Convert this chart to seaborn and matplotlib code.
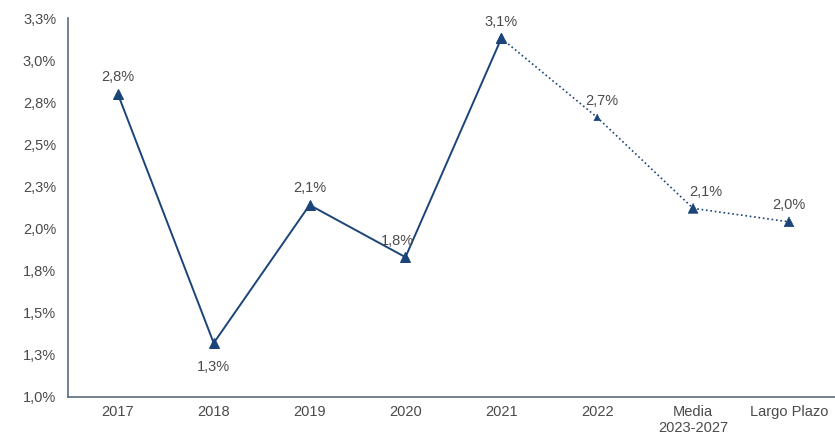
import pandas as pd
import seaborn as sns
import matplotlib.pyplot as plt

# datos (%)
categorias = ['2017', '2018', '2019', '2020', '2021', '2022', 'Media\n2023-2027', 'Largo Plazo']
valores = [2.80, 1.32, 2.14, 1.83, 3.13, 2.66, 2.12, 2.04]
etiquetas = ['2,8%', '1,3%', '2,1%', '1,8%', '3,1%', '2,7%', '2,1%', '2,0%']
yticks = [1.0, 1.25, 1.5, 1.75, 2.0, 2.25, 2.5, 2.75, 3.0, 3.25]
ytick_labels = ['1,0%', '1,3%', '1,5%', '1,8%', '2,0%', '2,3%', '2,5%', '2,8%', '3,0%', '3,3%']
# desplazamiento de las etiquetas en puntos (x, y)
offsets = [(0, 12), (0, -17), (0, 12), (-6, 12), (0, 12), (3, 12), (9, 12), (0, 12)]

sns.set_style('white')
plt.rcParams['font.family'] = ['Liberation Sans', 'DejaVu Sans']

color = '#1b4479'
gris = '#4a4a4a'

df = pd.DataFrame({'pos': range(len(categorias)), 'valor': valores})
real = df.iloc[:5]
prevision = df.iloc[4:]

fig = plt.figure(figsize=(8.35, 4.42), dpi=100)
ax = fig.add_axes([0.0814, 0.102, 0.9186, 0.857])

sns.lineplot(data=real, x='pos', y='valor', color=color, linewidth=1.4,
             marker='^', markersize=7.5, markeredgecolor=color, ax=ax)
sns.lineplot(data=prevision, x='pos', y='valor', color=color, linewidth=1.2,
             linestyle=':', ax=ax)
sns.scatterplot(x=prevision['pos'], y=prevision['valor'], marker='^',
                s=[50, 22, 50, 50], color=color, edgecolor=color, ax=ax, legend=False)

for i, v in enumerate(valores):
    ax.annotate(etiquetas[i], (i, v), xytext=offsets[i],
                textcoords='offset points', ha='center', va='center',
                fontsize=10.5, color=gris)

ax.set_ylim(1.0, 3.25)
ax.set_xlim(-0.52, len(categorias) - 0.52)
ax.set_yticks(yticks)
ax.set_yticklabels(ytick_labels)
ax.set_xticks(range(len(categorias)))
ax.set_xticklabels(categorias)
ax.set_xticks([k + 0.5 for k in range(len(categorias) - 1)], minor=True)
ax.tick_params(axis='x', which='major', length=0, labelsize=10.5, labelcolor=gris, pad=6)
ax.tick_params(axis='x', which='minor', length=5, color='#5b6b7c', direction='out')
ax.tick_params(axis='y', length=5, color='#5b6b7c', labelsize=10.5, labelcolor=gris, direction='out')
ax.set_xlabel('')
ax.set_ylabel('')

for s in ['top', 'right']:
    ax.spines[s].set_visible(False)
for s in ['left', 'bottom']:
    ax.spines[s].set_color('#5b6b7c')
    ax.spines[s].set_linewidth(1.2)

fig.savefig('out.png', dpi=100)
